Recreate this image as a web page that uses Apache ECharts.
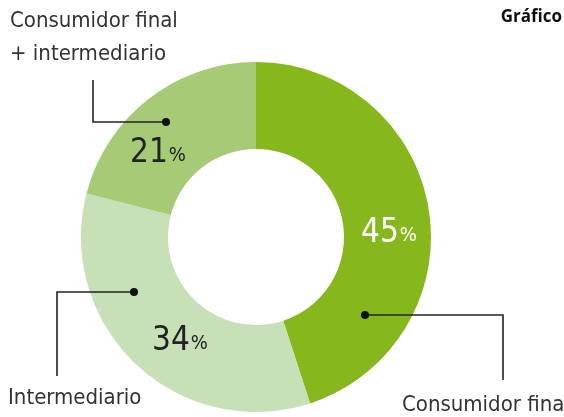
<!DOCTYPE html>
<html>
<head>
<meta charset="utf-8">
<script src="https://cdn.jsdelivr.net/npm/echarts@6/dist/echarts.min.js"></script>
<style>
  html, body { margin: 0; padding: 0; background: #fff; }
  #chart { width: 564px; height: 417px; }
</style>
</head>
<body>
<div id="chart"></div>
<script>
const names = ['Consumidor final', 'Intermediario', 'Consumidor final\n+ intermediario'];
const values = [45, 34, 21];
const colors = ['#86b81e', '#c7e0b7', '#a7ca76'];

const cx = 256, cy = 237;
const font = '"Liberation Sans Narrow", "DejaVu Sans Condensed", sans-serif';

// where the percentage text sits, per slice
const pctPos = [[389, 233], [180, 341], [158, 153]];
const pctColor = ['#fff', '#222', '#222'];

// leader lines: dot -> corner -> end, and name label spot
const leaders = [
  { pts: [[365, 315], [503, 315], [503, 380]], label: [402, 405], align: 'left', va: 'middle' },
  { pts: [[134, 292], [57, 292], [57, 376]], label: [8, 398], align: 'left', va: 'middle' },
  { pts: [[166, 122], [93, 122], [93, 80]], label: [10, 5], align: 'left', va: 'top' }
];

const getOption = () => {
  return {
    animation: false,
    graphic: [
      {
        type: 'text',
        right: 2,
        top: 9,
        style: { text: 'Gráfico', font: 'bold 17px "Open Sans", sans-serif', fill: '#111' }
      }
    ].concat(leaders.map(l => ({
      type: 'circle',
      shape: { cx: l.pts[0][0], cy: l.pts[0][1], r: 4 },
      style: { fill: '#111' },
      z: 100
    }))),
    series: [
      {
        type: 'pie',
        center: [cx, cy],
        radius: [88, 175],
        startAngle: 90,
        clockwise: true,
        silent: true,
        z: 2,
        data: values.map((v, i) => ({
          name: names[i],
          value: v,
          itemStyle: { color: colors[i] },
          label: { color: pctColor[i] }
        })),
        label: {
          show: true,
          position: 'inside',
          formatter: p => '{n|' + p.value + '}{p|%}',
          rich: {
            n: { fontFamily: font, fontSize: 33 },
            p: { fontFamily: font, fontSize: 20, padding: [6, 0, 0, 1] }
          }
        },
        labelLayout: p => ({
          x: pctPos[p.dataIndex][0],
          y: pctPos[p.dataIndex][1],
          align: 'center',
          verticalAlign: 'middle'
        }),
        itemStyle: { borderWidth: 0 }
      },
      {
        type: 'pie',
        center: [cx, cy],
        radius: [88, 175],
        startAngle: 90,
        clockwise: true,
        silent: true,
        z: 3,
        data: values.map((v, i) => ({ name: names[i], value: v, itemStyle: { color: 'rgba(0,0,0,0)' } })),
        label: {
          show: true,
          position: 'outside',
          formatter: '{b}',
          fontFamily: font,
          fontSize: 22,
          lineHeight: 33,
          color: '#333',
          overflow: 'none',
          width: 300
        },
        labelLine: { show: true, lineStyle: { color: '#222', width: 1.6 } },
        labelLayout: p => {
          const l = leaders[p.dataIndex];
          return {
            x: l.label[0],
            y: l.label[1],
            align: l.align,
            verticalAlign: l.va,
            labelLinePoints: l.pts
          };
        }
      }
    ]
  };
};

const chart = echarts.init(document.getElementById('chart'));
chart.setOption(getOption());
</script>
</body>
</html>
